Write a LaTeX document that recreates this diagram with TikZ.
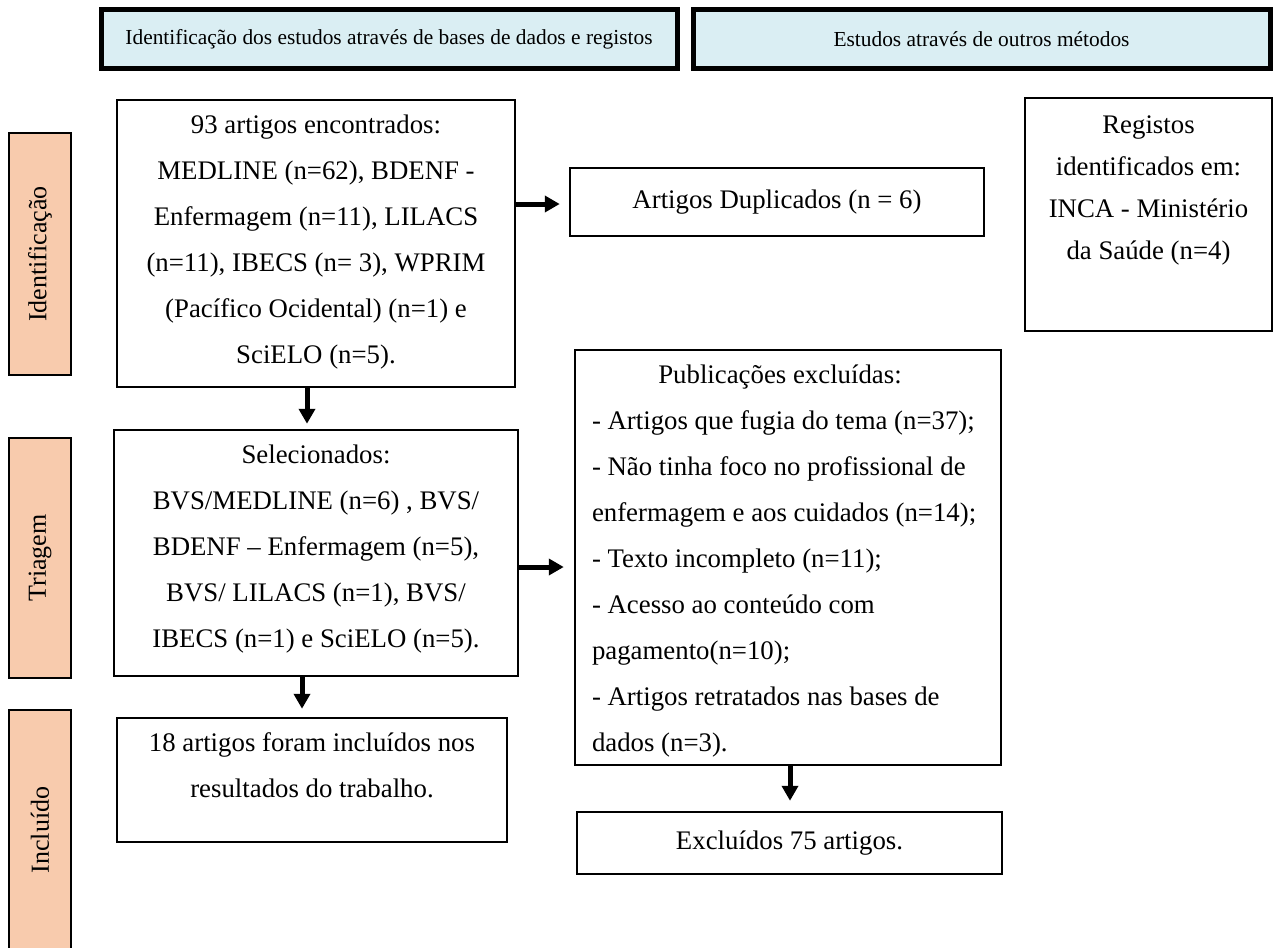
\documentclass[tikz,border=0pt]{standalone}
\usepackage{fontspec}
\setmainfont{Liberation Serif}
\usetikzlibrary{arrows.meta,calc}
\definecolor{azulcab}{HTML}{DAEEF3}
\definecolor{laranjafase}{HTML}{F8CBAD}
% caixa de texto com altura fixa e texto no topo
\newcommand{\caixatexto}[4]{\parbox[c][#2][t]{#1}{\vspace*{#3}\centering #4}}

\begin{document}
\begin{tikzpicture}[x=1pt,y=-1pt,
	cabecalho/.style={draw=black, line width=5pt, fill=azulcab, inner sep=0pt,
		font=\fontsize{21.4}{26}\selectfont},
	fase/.style={draw=black, line width=2.5pt, fill=laranjafase, inner sep=0pt,
		rotate=90, minimum height=62pt, font=\fontsize{26}{30}\selectfont},
	caixa/.style={draw=black, line width=2.5pt, inner sep=0pt,
		font=\fontsize{26.8}{46}\selectfont},
	seta/.style={line width=5pt, -{Triangle[length=15pt,width=16pt]}}]
	\useasboundingbox (0,0) rectangle (1281,947);

	% Cabecalhos
	\node[cabecalho, minimum width=576pt, minimum height=59pt] (basesDados)
		at (389,39.5) {Identificação dos estudos através de bases de dados e registos};
	\node[cabecalho, minimum width=577pt, minimum height=59pt] (outrosMetodos)
		at (981.5,39.5) {Estudos através de outros métodos};

	% Fases
	\node[fase, minimum width=242pt] (faseIdent) at (40,254) {Identificação};
	\node[fase, minimum width=240pt] (faseTriagem) at (40,558) {Triagem};
	\node[fase, minimum width=240pt] (faseIncluido) at (40,830) {Incluído};

	% Identificacao
	\node[caixa] (encontrados) at (316,243.5) {\caixatexto{398pt}{287pt}{15pt}{%
		93 artigos encontrados:\\
		MEDLINE (n=62), BDENF -\\
		Enfermagem (n=11), LILACS\\
		(n=11), IBECS (n= 3), WPRIM\\
		(Pacífico Ocidental) (n=1) e\\
		SciELO (n=5).}};
	\node[caixa] (duplicados) at (777,202) {\parbox[c][68pt][c]{414pt}{\centering
		Artigos Duplicados (n = 6)}};
	\node[caixa, font=\fontsize{26.8}{42}\selectfont] (registos) at (1148.5,214.5)
		{\caixatexto{247pt}{233pt}{18pt}{%
		Registos\\
		identificados em:\\
		INCA - Ministério\\
		da Saúde (n=4)}};

	% Triagem
	\node[caixa] (selecionados) at (316,553) {\caixatexto{404pt}{246pt}{15pt}{%
		Selecionados:\\
		BVS/MEDLINE (n=6) , BVS/\\
		BDENF – Enfermagem (n=5),\\
		BVS/ LILACS (n=1), BVS/\\
		IBECS (n=1) e SciELO (n=5).}};
	\node[caixa] (excluidas) at (788,557.5) {\caixatexto{426pt}{415pt}{15pt}{%
		\leftskip=18pt plus 1fil \rightskip=34pt plus 1fil \parfillskip=0pt
		Publicações excluídas:\par
		\raggedright\leftskip=17pt
		- Artigos que fugia do tema (n=37);\\
		- Não tinha foco no profissional de\\
		enfermagem e aos cuidados (n=14);\\
		- Texto incompleto (n=11);\\
		- Acesso ao conteúdo com\\
		pagamento(n=10);\\
		- Artigos retratados nas bases de\\
		dados (n=3).}};

	% Incluido
	\node[caixa] (incluidos) at (312,780) {\caixatexto{390pt}{124pt}{15pt}{%
		18 artigos foram incluídos nos\\
		resultados do trabalho.}};
	\node[caixa] (excluidos75) at (789.5,843) {\parbox[c][62pt][c]{425pt}{\centering
		Excluídos 75 artigos.}};

	% Setas
	\draw[seta] ($(encontrados.east |- duplicados.west)+(-2,2)$)
		-- ($(duplicados.west)+(-9,2)$);
	\draw[seta] ($(encontrados.south)+(-9,0)$) -- ($(selecionados.north)+(-9,-5)$);
	\draw[seta] ($(selecionados.east)+(0,14)$)
		-- ($(selecionados.east -| excluidas.west)+(-10,14)$);
	\draw[seta] ($(selecionados.south)+(-14,0)$)
		-- ($(incluidos.north -| selecionados.south)+(-14,-8)$);
	\draw[seta] ($(excluidas.south)+(2,0)$) -- ($(excluidos75.north)+(0.5,-10)$);
\end{tikzpicture}
\end{document}
